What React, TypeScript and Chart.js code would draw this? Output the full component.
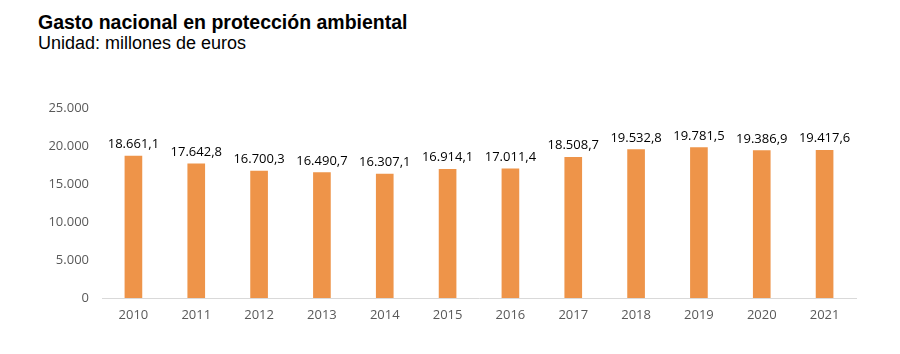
import React, { useEffect, useRef } from "react";
import { Chart, registerables } from "chart.js";

Chart.register(...registerables);

const years = ["2010", "2011", "2012", "2013", "2014", "2015", "2016", "2017", "2018", "2019", "2020", "2021"];
const gasto = [18661.1, 17642.8, 16700.3, 16490.7, 16307.1, 16914.1, 17011.4, 18508.7, 19532.8, 19781.5, 19386.9, 19417.6];
const yTicks = [0, 5000, 10000, 15000, 20000, 25000];

const title = "Gasto nacional en protección ambiental";
const subtitle = "Unidad: millones de euros";

const fmtThousands = (v: number) => {
  const s = Math.round(v).toString();
  return s.replace(/\B(?=(\d{3})+(?!\d))/g, ".");
};
const fmtValue = (v: number) => {
  const [i, d] = v.toFixed(1).split(".");
  return i.replace(/\B(?=(\d{3})+(?!\d))/g, ".") + "," + d;
};

const labelPlugin = {
  id: "valueLabels",
  afterDatasetsDraw(chart: any) {
    const ctx = chart.ctx;
    const meta = chart.getDatasetMeta(0);
    ctx.save();
    ctx.font = "13px 'Open Sans'";
    ctx.fillStyle = "#000000";
    ctx.textAlign = "center";
    ctx.textBaseline = "alphabetic";
    meta.data.forEach((bar: any, i: number) => {
      ctx.fillText(fmtValue(gasto[i]), bar.x, bar.y - 8);
    });
    ctx.restore();
  },
};

export default function App() {
  const ref = useRef<HTMLCanvasElement>(null);
  useEffect(() => {
    if (!ref.current) return;
    const chart = new Chart(ref.current, {
      type: "bar",
      data: {
        labels: years,
        datasets: [
          {
            data: gasto,
            backgroundColor: "#EE9449",
            barThickness: 17,
          },
        ],
      },
      options: {
        animation: false,
        responsive: false,
        maintainAspectRatio: false,
        layout: { padding: { top: 108, right: 44, bottom: 0, left: 0 } },
        plugins: { legend: { display: false }, tooltip: { enabled: false } },
        scales: {
          x: {
            grid: { display: false, drawTicks: false },
            border: { display: true, color: "#D9D9D9", width: 1 },
            ticks: { color: "#595959", font: { family: "'Open Sans'", size: 13 }, padding: 9 },
            afterFit: (s: any) => {
              s.height = 56;
            },
          },
          y: {
            min: 0,
            max: 25000,
            afterBuildTicks: (s: any) => {
              s.ticks = yTicks.map((v) => ({ value: v }));
            },
            grid: { display: false, drawTicks: false },
            border: { display: false },
            ticks: {
              color: "#595959",
              font: { family: "'Open Sans'", size: 13 },
              padding: 13,
              callback: (v: any) => fmtThousands(Number(v)),
            },
            afterFit: (s: any) => {
              s.width = 102;
            },
          },
        },
      },
      plugins: [labelPlugin],
    });
    return () => chart.destroy();
  }, []);

  return (
    <div style={{ position: "absolute", left: 0, top: 0, width: 900, height: 354, background: "#ffffff" }}>
      <div
        style={{
          position: "absolute",
          left: 38,
          top: 13,
          fontFamily: "'Liberation Sans', Arial, sans-serif",
          fontWeight: "bold",
          fontSize: 19.5,
          lineHeight: "19.5px",
          color: "#000",
          whiteSpace: "nowrap",
        }}
      >
        {title}
      </div>
      <div
        style={{
          position: "absolute",
          left: 38,
          top: 34,
          fontFamily: "'Liberation Sans', Arial, sans-serif",
          fontSize: 18,
          lineHeight: "18px",
          color: "#000",
          whiteSpace: "nowrap",
        }}
      >
        {subtitle}
      </div>
      <canvas ref={ref} width={900} height={354} style={{ position: "absolute", left: 0, top: 0 }} />
    </div>
  );
}
